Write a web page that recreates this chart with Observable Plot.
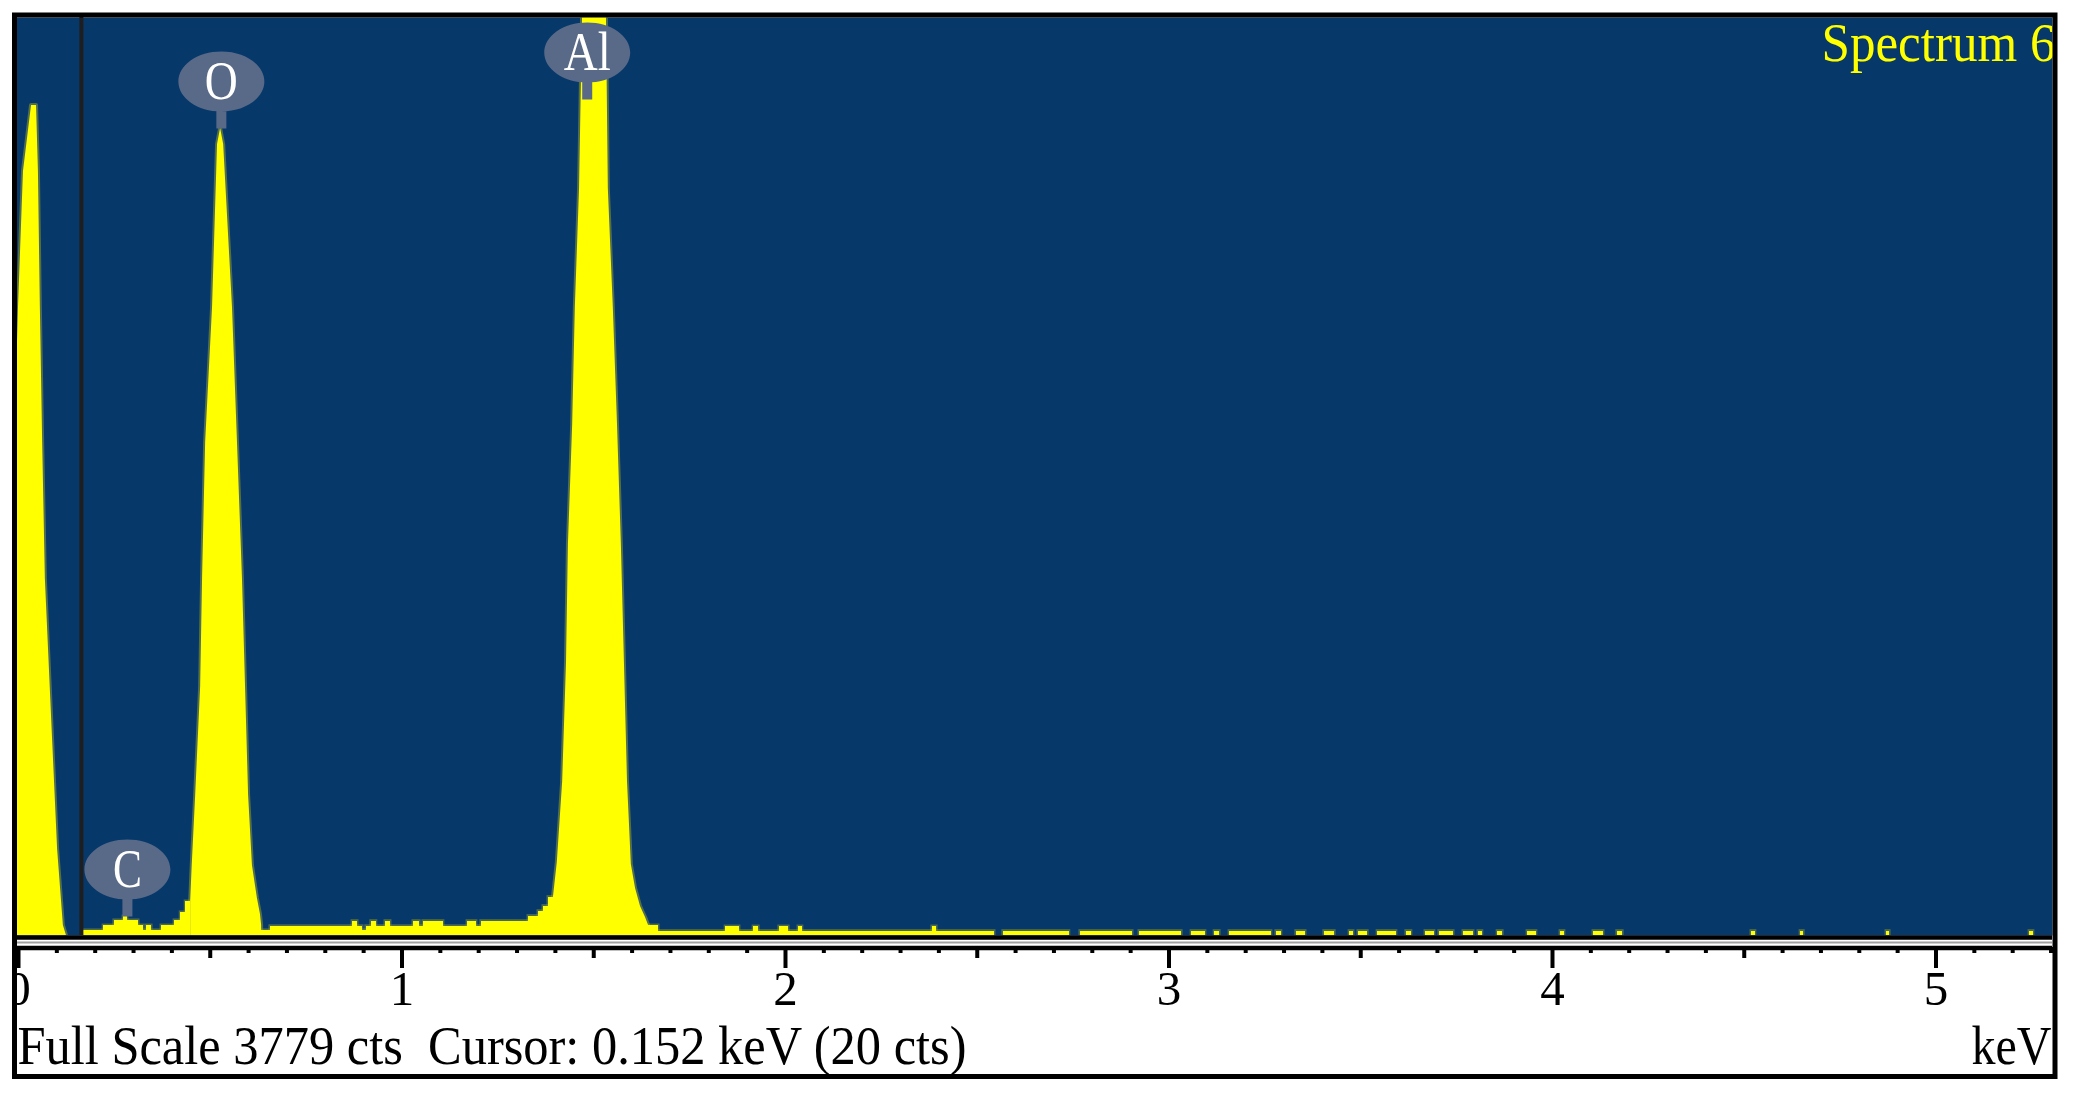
<!DOCTYPE html>
<html><head><meta charset="utf-8">
<script src="https://cdn.jsdelivr.net/npm/d3@7"></script>
<script src="https://cdn.jsdelivr.net/npm/@observablehq/plot@0.6"></script>
<style>body{margin:0;background:#fff}</style>
</head><body><div id="chart"></div>
<script>
// ---- data ----
const fullScale = 3779;           // cts
const cursorKeV = 0.164;          // drawn cursor position
const title = "Spectrum 6";
const footer = "Full Scale 3779 cts \u00a0Cursor: 0.152 keV (20 cts)";
const unitLabel = "keV";

// zero (noise) peak outline
const zeroKeV = [-0.0052, 0.000, 0.013, 0.034, 0.047, 0.052, 0.057, 0.063, 0.070, 0.089, 0.102, 0.117, 0.125];
const zeroCts = [2300, 2585, 3145, 3417, 3417, 3145, 2585, 2029, 1470, 803, 354, 41, 0];

// O K peak outline
const oKeV = [0.449, 0.453, 0.462, 0.475, 0.480, 0.488, 0.506, 0.519, 0.527, 0.535, 0.558, 0.571, 0.584, 0.592, 0.600, 0.610, 0.623, 0.631, 0.634];
const oCts = [140, 288, 576, 1025, 1470, 2029, 2585, 3256, 3322, 3256, 2585, 2029, 1470, 1025, 576, 288, 152, 86, 41];

// Al K peak outline (goes off full scale)
const alKeV = [1.395, 1.405, 1.419, 1.429, 1.434, 1.445, 1.452, 1.463, 1.471, 1.502, 1.533, 1.538, 1.551, 1.562, 1.572, 1.580, 1.588, 1.598, 1.609, 1.622, 1.635, 1.643];
const alCts = [158, 300, 634, 1124, 1610, 2100, 2585, 3075, 3800, 4500, 3800, 3075, 2585, 2100, 1610, 1124, 634, 292, 193, 119, 74, 41];

// background channels (start keV, end keV, cts)
const stepStart = [0.170,0.222,0.250,0.274,0.284,0.313,0.326,0.334,0.347,0.373,0.407,0.423,0.436,
  0.634,0.657,0.871,0.884,0.897,0.907,0.920,0.933,0.957,0.970,1.030,1.046,1.056,1.108,1.171,1.194,1.207,1.330,1.356,1.369,1.382,
  1.643,1.669,1.844,1.880,1.917,1.930,1.984,2.008,2.034,2.044,2.383,2.394,
  2.568,2.769,2.923,3.059,3.119,3.158,3.280,3.332,3.405,3.471,3.494,3.544,3.619,3.669,3.705,3.768,3.807,3.857,3.935,4.021,4.107,4.169,4.519,4.647,4.871,5.244];
const stepEnd = [0.222,0.250,0.274,0.284,0.313,0.326,0.334,0.347,0.373,0.407,0.423,0.436,0.449,
  0.657,0.871,0.884,0.897,0.907,0.920,0.933,0.957,0.970,1.030,1.046,1.056,1.108,1.171,1.194,1.207,1.330,1.356,1.369,1.382,1.395,
  1.669,1.844,1.880,1.917,1.930,1.984,2.008,2.034,2.044,2.383,2.394,2.545,
  2.740,2.905,3.033,3.095,3.132,3.267,3.293,3.356,3.432,3.481,3.518,3.593,3.632,3.692,3.742,3.794,3.817,3.870,3.958,4.031,4.133,4.183,4.529,4.655,4.879,5.254];
const stepCts = [21,41,62,78,62,41,21,41,21,41,62,95,140,
  21,38,59,38,21,38,59,38,59,38,59,38,59,38,59,38,59,80,100,121,158,
  41,18,37,18,37,18,37,18,37,18,37,18,
  18,18,18,18,18,18,18,18,18,18,18,18,18,18,18,18,18,18,18,18,18,18,18,18,18,18];

// element markers
const elements = ["C", "O", "Al"];
const elementKeV = [0.284, 0.529, 1.483];
const elementTipCts = [78, 3322, 3441];

// axis ticks
const majorTicks = [0, 1, 2, 3, 4, 5];
const halfTicks = [0.5, 1.5, 2.5, 3.5, 4.5];
const minorTicks = [0.1,0.2,0.3,0.4,0.6,0.7,0.8,0.9,1.1,1.2,1.3,1.4,1.6,1.7,1.8,1.9,2.1,2.2,2.3,2.4,2.6,2.7,2.8,2.9,
  3.1,3.2,3.3,3.4,3.6,3.7,3.8,3.9,4.1,4.2,4.3,4.4,4.6,4.7,4.8,4.9,5.1,5.2,5.3];

// ---- styles ----
const BG = "#07386a", YEL = "#ffff00", FRINGE = "#8e9a3c", BUBBLE = "#596a88";
const FONT = "Liberation Serif";
const textLengths = {[footer]: 949, [unitLabel]: 80, [title]: 234, "Al": 47, "O": 33, "C": 29};

const bubbleSymbol = {
  draw(ctx) {
    const rx = 43, ry = 30, cy = -47, k = 0.5523;
    ctx.moveTo(rx, cy);
    ctx.bezierCurveTo(rx, cy + k * ry, k * rx, cy + ry, 0, cy + ry);
    ctx.bezierCurveTo(-k * rx, cy + ry, -rx, cy + k * ry, -rx, cy);
    ctx.bezierCurveTo(-rx, cy - k * ry, -k * rx, cy - ry, 0, cy - ry);
    ctx.bezierCurveTo(k * rx, cy - ry, rx, cy - k * ry, rx, cy);
    ctx.closePath();
    ctx.rect(-5, cy + ry - 3, 10, -(cy + ry - 3));
  }
};

const peaks = [[zeroKeV, zeroCts], [oKeV, oCts], [alKeV, alCts]];

const chart = Plot.plot({
  width: 2076, height: 1093,
  marginLeft: 16, marginRight: 24, marginTop: 17, marginBottom: 158,
  x: {domain: [-0.0052, 5.3038], axis: null},
  y: {domain: [0, fullScale], axis: null},
  style: {background: "#ffffff", fontFamily: FONT, color: "black"},
  marks: [
    Plot.frame({fill: BG}),
    // antialias fringe
    ...peaks.map(([k, c]) => Plot.areaY(c, {x: k, y: c, fill: FRINGE, stroke: FRINGE, strokeWidth: 4, strokeOpacity: 0.55, fillOpacity: 0, clip: true})),
    Plot.rectY(stepCts, {x1: stepStart, x2: stepEnd, y: stepCts, fill: "none", stroke: FRINGE, strokeWidth: 3, strokeOpacity: 0.5, clip: true}),
    // spectrum
    ...peaks.map(([k, c]) => Plot.areaY(c, {x: k, y: c, fill: YEL, clip: true})),
    Plot.rectY(stepCts, {x1: stepStart, x2: stepEnd, y: stepCts, fill: YEL, shapeRendering: "crispEdges", clip: true}),
    // cursor
    Plot.ruleX([cursorKeV], {stroke: "#1e1e1e", strokeWidth: 4}),
    // element markers
    Plot.dot(elements, {x: elementKeV, y: elementTipCts, symbol: bubbleSymbol, fill: BUBBLE, stroke: null, r: 10}),
    Plot.text(elements, {x: elementKeV, y: elementTipCts, text: elements, dy: -47, fill: "white", fontSize: 54, lineAnchor: "middle", textAnchor: "middle"}),
    // title
    Plot.text([title], {frameAnchor: "top-right", textAnchor: "end", lineAnchor: "bottom", dx: 3, dy: 43, fill: YEL, fontSize: 54}),
    // separators and ruler
    Plot.ruleY([0], {dy: 2, stroke: "black", strokeWidth: 4.5}),
    Plot.ruleY([0], {dy: 7, stroke: "#a0a0a0", strokeWidth: 2}),
    Plot.ruleY([0], {dy: 12.5, stroke: "black", strokeWidth: 4.5}),
    Plot.axisX(minorTicks, {anchor: "bottom", dy: 12, tickSize: 6, strokeWidth: 4, stroke: "black", tickFormat: () => "", label: null}),
    Plot.axisX(halfTicks, {anchor: "bottom", dy: 12, tickSize: 11, strokeWidth: 4, stroke: "black", tickFormat: () => "", label: null}),
    Plot.axisX(majorTicks, {anchor: "bottom", dy: 12, tickSize: 21, tickPadding: 2, strokeWidth: 4, stroke: "black", fill: "black", fontSize: 49, tickFormat: d => String(d), label: null}),
    // footer
    Plot.text([footer], {frameAnchor: "bottom-left", textAnchor: "start", lineAnchor: "bottom", dx: 1, dy: 128, fill: "black", fontSize: 54}),
    Plot.text([unitLabel], {frameAnchor: "bottom-right", textAnchor: "end", lineAnchor: "bottom", dx: -1, dy: 128, fill: "black", fontSize: 54}),
    // outer white margin and black border
    Plot.frame({stroke: "white", strokeWidth: 12, insetLeft: -10, insetTop: -11, insetRight: -11, insetBottom: -150}),
    Plot.frame({stroke: "black", strokeWidth: 5, insetLeft: -2, insetTop: -2.5, insetRight: -2.5, insetBottom: -141})
  ]
});

chart.querySelectorAll("text").forEach(t => {
  const L = textLengths[t.textContent];
  if (L) { t.setAttribute("textLength", L); t.setAttribute("lengthAdjust", "spacingAndGlyphs"); }
});
document.getElementById("chart").append(chart);
</script></body></html>
